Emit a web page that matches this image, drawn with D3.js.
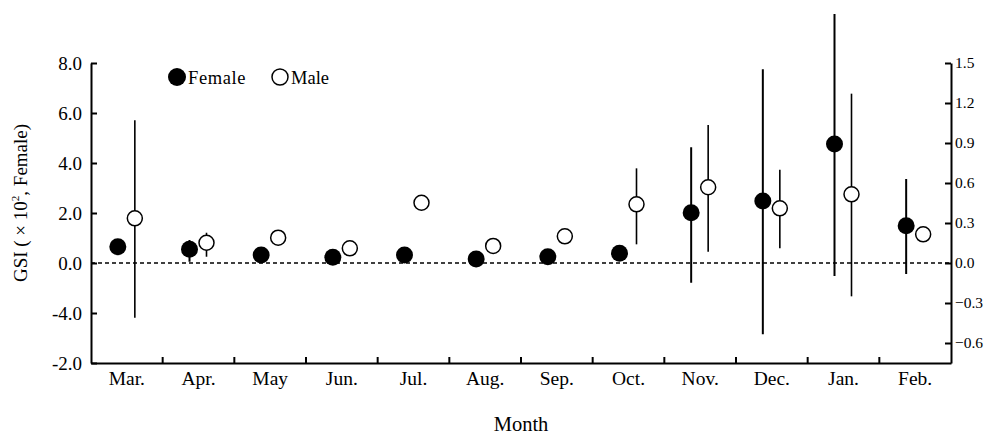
<!DOCTYPE html>
<html>
<head>
<meta charset="utf-8">
<script src="https://cdn.jsdelivr.net/npm/d3@7"></script>
<style>
  body { margin: 0; background: #fff; }
  svg text { font-family: "Liberation Serif", "Times New Roman", serif; fill: #000; }
</style>
</head>
<body>
<div id="chart"></div>
<script>
const months = ["Mar.", "Apr.", "May", "Jun.", "Jul.", "Aug.", "Sep.", "Oct.", "Nov.", "Dec.", "Jan.", "Feb."];

// female GSI (left axis, x10^2) with error-bar ends (null = no bar)
const femaleMean = [0.65, 0.55, 0.32, 0.23, 0.32, 0.16, 0.25, 0.39, 2.01, 2.48, 4.76, 1.49];
const femaleHigh = [null, 0.92, null, null, null, null, null, null, 4.63, 7.75, 9.96, 3.36];
const femaleLow  = [null, 0.05, null, null, null, null, null, null, -0.79, -2.85, -0.52, -0.44];

// male GSI (right axis)
const maleMean = [0.335, 0.152, 0.19, 0.11, 0.452, 0.128, 0.2, 0.44, 0.568, 0.41, 0.515, 0.215];
const maleHigh = [1.07, 0.227, null, null, null, null, null, 0.71, 1.035, 0.70, 1.27, null];
const maleLow  = [-0.41, 0.047, null, null, null, null, null, 0.14, 0.085, 0.11, -0.25, null];

const leftTicks = [8, 6, 4, 2, 0, -2, -4];
const leftTickLabels = ["8.0", "6.0", "4.0", "2.0", "0.0", "-4.0", "-2.0"];
const rightTicks = [1.5, 1.2, 0.9, 0.6, 0.3, 0, -0.3, -0.6];

const width = 988, height = 437;
const margin = { top: 63, right: 37, bottom: 74, left: 91 };
const innerW = width - margin.left - margin.right;
const innerH = height - margin.top - margin.bottom;

const svg = d3.select("#chart").append("svg")
  .attr("width", width)
  .attr("height", height);

const g = svg.append("g").attr("transform", `translate(${margin.left},${margin.top})`);

const x = d3.scaleBand().domain(months).range([0, innerW]).padding(0);
const yL = d3.scaleLinear().domain([-4, 8]).range([innerH, 0]);
const yR = d3.scaleLinear().domain([-0.75, 1.5]).range([innerH, 0]);

const fOff = -9, mOff = 8;
const cx = (i, off) => x(months[i]) + x.bandwidth() / 2 + off;

// zero line
g.append("line")
  .attr("x1", 0).attr("x2", innerW)
  .attr("y1", yL(0)).attr("y2", yL(0))
  .attr("stroke", "#000")
  .attr("stroke-width", 1.4)
  .attr("stroke-dasharray", "4 3");

// left axis
const leftAxis = g.append("g")
  .call(d3.axisLeft(yL)
    .tickValues(leftTicks)
    .tickFormat((d, i) => leftTickLabels[i])
    .tickSize(-6)
    .tickSizeOuter(0)
    .tickPadding(9));
leftAxis.select(".domain").attr("stroke-width", 2);
leftAxis.selectAll("line").attr("stroke-width", 2);
leftAxis.selectAll("text").style("font-size", "19px");

// right axis
const rightAxis = g.append("g")
  .attr("transform", `translate(${innerW},0)`)
  .call(d3.axisRight(yR)
    .tickValues(rightTicks)
    .tickFormat(d3.format(".1f"))
    .tickSize(-6)
    .tickSizeOuter(0)
    .tickPadding(4));
rightAxis.select(".domain").attr("stroke-width", 2);
rightAxis.selectAll("line").attr("stroke-width", 2);
rightAxis.selectAll("text").style("font-size", "15.5px");

// bottom axis
const bottomAxis = g.append("g")
  .attr("transform", `translate(0,${innerH})`)
  .call(d3.axisBottom(x).tickSize(0).tickSizeOuter(0).tickPadding(8));
bottomAxis.select(".domain").attr("stroke-width", 2);
bottomAxis.selectAll("text").style("font-size", "19.5px");

// inward ticks between months
g.append("g").selectAll("line")
  .data(months.slice(1))
  .join("line")
  .attr("x1", d => x(d)).attr("x2", d => x(d))
  .attr("y1", innerH).attr("y2", innerH - 6)
  .attr("stroke", "#000")
  .attr("stroke-width", 2);

// male error bars
months.forEach((m, i) => {
  if (maleHigh[i] != null) {
    g.append("line")
      .attr("x1", cx(i, mOff)).attr("x2", cx(i, mOff))
      .attr("y1", yR(maleHigh[i])).attr("y2", yR(maleLow[i]))
      .attr("stroke", "#000").attr("stroke-width", 1.6);
  }
});

// female error bars
months.forEach((m, i) => {
  if (femaleHigh[i] != null) {
    g.append("line")
      .attr("x1", cx(i, fOff)).attr("x2", cx(i, fOff))
      .attr("y1", yL(femaleHigh[i])).attr("y2", yL(femaleLow[i]))
      .attr("stroke", "#000").attr("stroke-width", 2);
  }
});

g.selectAll(".male")
  .data(maleMean)
  .join("circle")
  .attr("class", "male")
  .attr("cx", (d, i) => cx(i, mOff))
  .attr("cy", d => yR(d))
  .attr("r", 7.5)
  .attr("fill", "#fff")
  .attr("stroke", "#000")
  .attr("stroke-width", 1.5);

g.selectAll(".female")
  .data(femaleMean)
  .join("circle")
  .attr("class", "female")
  .attr("cx", (d, i) => cx(i, fOff))
  .attr("cy", d => yL(d))
  .attr("r", 8.5)
  .attr("fill", "#000");

// legend
const legend = svg.append("g");
legend.append("circle").attr("cx", 177).attr("cy", 77).attr("r", 9).attr("fill", "#000");
legend.append("text").attr("x", 188).attr("y", 84).style("font-size", "18.5px")
  .style("letter-spacing", "0.6px").text("Female");
legend.append("circle").attr("cx", 280).attr("cy", 77).attr("r", 8)
  .attr("fill", "#fff").attr("stroke", "#000").attr("stroke-width", 1.5);
legend.append("text").attr("x", 291).attr("y", 84).style("font-size", "18.5px").text("Male");

// axis titles
svg.append("text")
  .attr("x", margin.left + innerW / 2)
  .attr("y", 431)
  .attr("text-anchor", "middle")
  .style("font-size", "20.5px")
  .text("Month");

const yTitle = svg.append("text")
  .attr("transform", `translate(27,203) rotate(-90)`)
  .attr("text-anchor", "middle")
  .style("font-size", "19px");
yTitle.append("tspan").text("GSI ( \u00d7 10");
yTitle.append("tspan").attr("dy", -8).style("font-size", "11px").text("2");
yTitle.append("tspan").attr("dy", 8).text(", Female)");
</script>
</body>
</html>
